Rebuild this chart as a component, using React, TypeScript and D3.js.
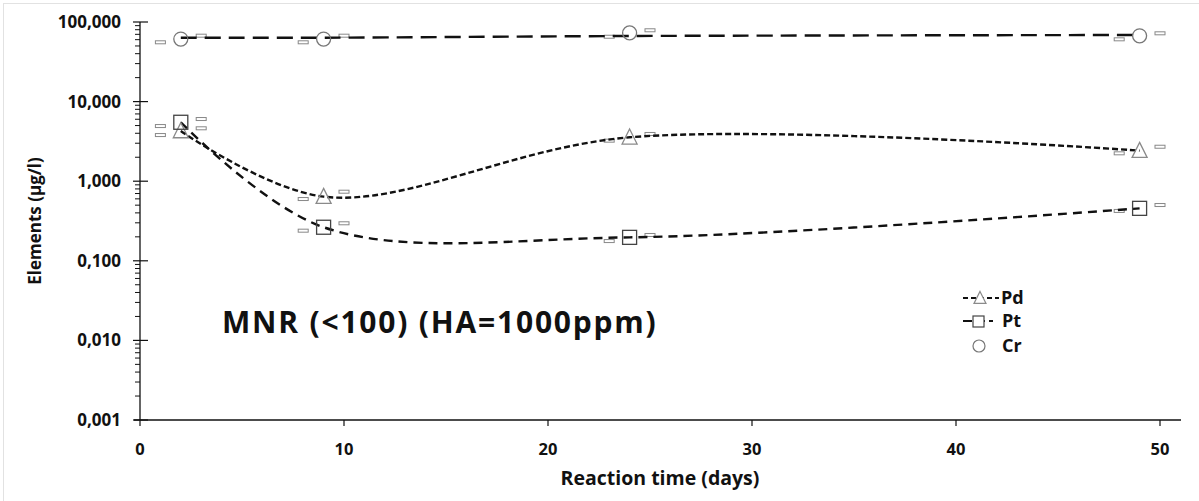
import React from "react";
import * as d3 from "d3";

// Reaction times (days) of the sampling points
const days = [2, 9, 24, 49];

// Mean concentrations (µg/l)
const pdValues = [4.27, 0.64, 3.56, 2.42];
const ptValues = [5.5, 0.264, 0.197, 0.456];
const crValues = [61, 61, 73, 67];

// Smoothed trend for Cr
const crTrend = [63.5, 63.5, 66.7, 68.7];

// Replicate minima (plotted one day before) and maxima (one day after)
const pdLow = [3.8, 0.597, 3.23, 2.24];
const pdHigh = [4.62, 0.738, 3.92, 2.71];
const ptLow = [4.93, 0.239, 0.177, 0.423];
const ptHigh = [6.04, 0.296, 0.211, 0.502];
const crLow = [55.6, 55.6, 65.3, 60.6];
const crHigh = [67.3, 67.3, 78.7, 72.1];

// Axis ticks
const xTicks = [0, 10, 20, 30, 40, 50];
const yTicks = [100, 10, 1, 0.1, 0.01, 0.001];
const yTickLabels = ["100,000", "10,000", "1,000", "0,100", "0,010", "0,001"];

const W = 1199;
const H = 501;
const FONT = "'Open Sans', 'Noto Sans', sans-serif";

export default function App() {
  const x = d3.scaleLinear().domain([0, 50]).range([140, 1160]);
  const y = d3.scaleLog().domain([0.001, 100]).range([420, 22]);

  const minorTicks: number[] = [];
  [0.001, 0.01, 0.1, 1, 10].forEach((dec) => {
    for (let k = 2; k <= 9; k++) minorTicks.push(k * dec);
  });

  const smooth = (vals: number[]) =>
    d3
      .line<number>()
      .x((_, i) => x(days[i]))
      .y((v) => y(v))
      .curve(d3.curveCatmullRom.alpha(0.5))(vals) || "";

  const lineStyle = { fill: "none", stroke: "#111", strokeWidth: 2.4 };

  const rangeMarks = (lows: number[], highs: number[], key: string) => (
    <g key={key}>
      {days.map((d, i) => (
        <g key={i}>
          <rect x={x(d - 1) - 5} y={y(lows[i]) - 1.5} width={10} height={3}
            fill="#fff" stroke="#888" strokeWidth={1} />
          <rect x={x(d + 1) - 5} y={y(highs[i]) - 1.5} width={10} height={3}
            fill="#fff" stroke="#888" strokeWidth={1} />
        </g>
      ))}
    </g>
  );

  const tri = (cx: number, cy: number, s: number) =>
    `M${cx},${cy - s * 0.55}L${cx + s / 2},${cy + s * 0.45}L${cx - s / 2},${cy + s * 0.45}Z`;

  return (
    <svg width={W} height={H} style={{ position: "absolute", left: 0, top: 0, background: "#fff" }}
      fontFamily={FONT}>
      <rect x={3.5} y={3.5} width={1210} height={510} fill="none" stroke="#e2e2e2" />

      {/* range markers */}
      {rangeMarks(crLow, crHigh, "cr")}
      {rangeMarks(pdLow, pdHigh, "pd")}
      {rangeMarks(ptLow, ptHigh, "pt")}

      {/* smoothed lines */}
      <path d={smooth(crTrend)} {...lineStyle} strokeDasharray="16 8" />
      <path d={smooth(pdValues)} {...lineStyle} strokeDasharray="6 3" />
      <path d={smooth(ptValues)} {...lineStyle} strokeDasharray="9 6" />

      {/* markers */}
      {days.map((d, i) => (
        <circle key={"c" + i} cx={x(d)} cy={y(crValues[i])} r={7} fill="none" stroke="#777" strokeWidth={1.3} />
      ))}
      {days.map((d, i) => (
        <path key={"t" + i} d={tri(x(d), y(pdValues[i]), 15)} fill="none" stroke="#8a8a8a" strokeWidth={1.3} />
      ))}
      {days.map((d, i) => (
        <rect key={"s" + i} x={x(d) - 7} y={y(ptValues[i]) - 7} width={14} height={14}
          fill="none" stroke="#444" strokeWidth={1.3} />
      ))}

      {/* y axis */}
      <line x1={140} x2={140} y1={y(100)} y2={420} stroke="#111" strokeWidth={1.3} />
      {yTicks.map((t, i) => (
        <g key={t}>
          <line x1={133} x2={148} y1={y(t)} y2={y(t)} stroke="#111" strokeWidth={1.2} />
          <text x={121} y={y(t)} dy="0.35em" textAnchor="end" fontSize={17} fontWeight="bold" fill="#111">
            {yTickLabels[i]}
          </text>
        </g>
      ))}
      {minorTicks.map((t) => (
        <line key={t} x1={135} x2={140} y1={y(t)} y2={y(t)} stroke="#111" strokeWidth={1} />
      ))}

      {/* x axis */}
      <line x1={134} x2={1181} y1={420} y2={420} stroke="#111" strokeWidth={1.3} />
      {xTicks.map((t) => (
        <g key={t}>
          <line x1={x(t)} x2={x(t)} y1={420} y2={426} stroke="#111" strokeWidth={1.2} />
          <text x={x(t)} y={449} dy="0.35em" textAnchor="middle" fontSize={16.5} fontWeight="bold" fill="#111">
            {t}
          </text>
        </g>
      ))}

      <text x={660} y={478} dy="0.35em" textAnchor="middle" fontSize={19.5} fontWeight="bold" fill="#111">
        Reaction time (days)
      </text>
      <text transform="translate(35,221) rotate(-90)" dy="0.35em" textAnchor="middle" fontSize={17}
        fontWeight="bold" fill="#111">
        Elements (µg/l)
      </text>

      <text x={222} y={322} dy="0.35em" fontSize={30} fontWeight="bold" fill="#111" letterSpacing={1.8}>
        MNR (&lt;100) (HA=1000ppm)
      </text>

      {/* legend */}
      <g>
        <line x1={963} x2={999} y1={298} y2={298} stroke="#111" strokeWidth={2} strokeDasharray="5 3" />
        <path d={tri(980, 298, 12)} fill="#fff" stroke="#8a8a8a" strokeWidth={1.2} />
        <text x={1001} y={298} dy="0.35em" fontSize={18} fontWeight="bold" fill="#111">Pd</text>

        <line x1={963} x2={993} y1={321} y2={321} stroke="#111" strokeWidth={2} strokeDasharray="9 4" />
        <rect x={973} y={316} width={11} height={11} fill="#fff" stroke="#444" strokeWidth={1.2} />
        <text x={1002} y={321} dy="0.35em" fontSize={18} fontWeight="bold" fill="#111">Pt</text>

        <circle cx={979} cy={346} r={6} fill="none" stroke="#777" strokeWidth={1.2} />
        <text x={1002} y={346} dy="0.35em" fontSize={18} fontWeight="bold" fill="#111">Cr</text>
      </g>
    </svg>
  );
}
